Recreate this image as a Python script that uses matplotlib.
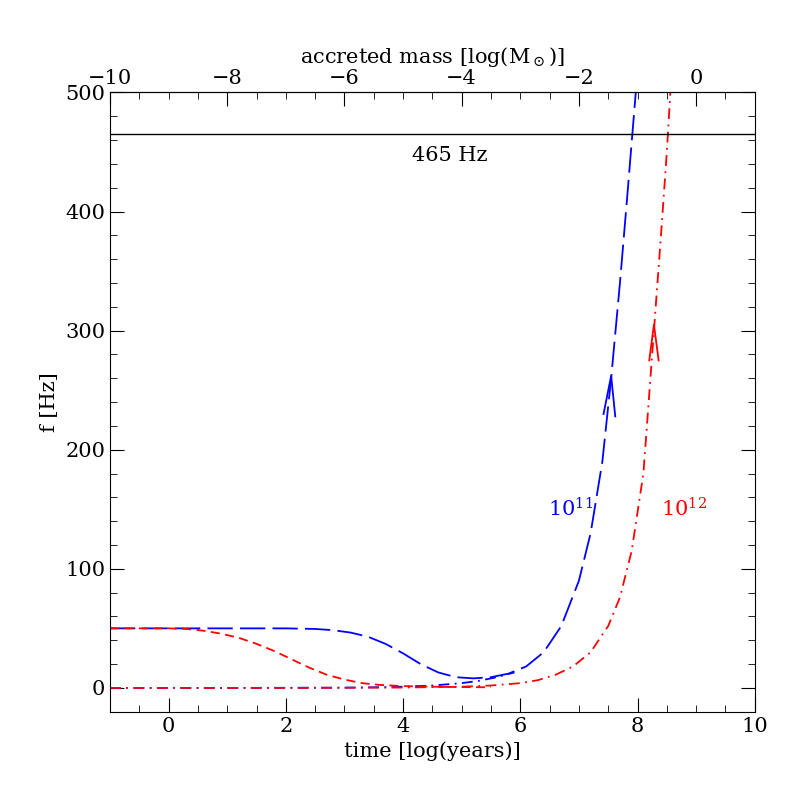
import numpy as np
import matplotlib
matplotlib.use("Agg")
import matplotlib.pyplot as plt
from matplotlib.ticker import MultipleLocator, FuncFormatter

plt.rcParams['font.family'] = 'DejaVu Serif'
plt.rcParams['mathtext.fontset'] = 'dejavuserif'

blue_up_x = [-1, 0, 1, 2, 2.5, 2.8, 3.1, 3.4, 3.7, 4.0, 4.3, 4.6, 4.9, 5.2, 5.5, 5.8, 6.1, 6.4, 6.7, 7.0, 7.2, 7.4, 7.55, 7.7, 7.82, 7.92, 7.97]
blue_up_y = [50, 50, 50, 50, 49.5, 48.5, 46.5, 43, 37, 29, 20, 13, 9, 8, 9, 12, 18, 30, 52, 90, 130, 190, 260, 340, 410, 470, 500]
blue_lo_x = [-1, 1, 3, 3.5, 4, 4.5, 5, 5.3, 5.6, 5.9]
blue_lo_y = [0, 0, 0.2, 0.5, 1, 2, 4, 6, 9, 13]
red_up_x = [-1, 0, 0.3, 0.6, 0.9, 1.2, 1.5, 1.8, 2.1, 2.4, 2.7, 3.0, 3.3, 3.6, 4.0, 4.5, 5, 5.5]
red_up_y = [50, 50, 49.5, 48, 45.5, 42, 37, 31, 24, 17, 11, 7, 4, 2.5, 1.5, 1, 0.7, 0.5]
red_lo_x = [-1, 2, 4, 5, 5.5, 6, 6.3, 6.6, 6.9, 7.2, 7.5, 7.7, 7.9, 8.1, 8.28, 8.4, 8.5, 8.56]
red_lo_y = [0, 0, 0.3, 1, 2, 4, 6.5, 11, 18, 30, 52, 76, 115, 180, 300, 380, 450, 500]
f_line = 465

fig = plt.figure(figsize=(7.97, 7.97), dpi=100)
ax = fig.add_axes([0.138, 0.107, 0.809, 0.777])
ax.plot(blue_up_x, blue_up_y, color='blue', lw=1.3, dashes=(14, 4))
ax.plot(blue_lo_x, blue_lo_y, color='blue', lw=1.3, dashes=(6, 3, 1, 3))
ax.plot(red_up_x, red_up_y, color='red', lw=1.3, dashes=(5, 3))
ax.plot(red_lo_x, red_lo_y, color='red', lw=1.3, dashes=(6, 3, 1, 3))
ax.axhline(f_line, color='black', lw=1)
ax.text(4.8, 447, '465 Hz', ha='center', va='center', fontsize=15)
ax.plot([7.42, 7.55, 7.62], [230, 262, 228], color='blue', lw=1.3)
ax.plot([8.2, 8.28, 8.36], [275, 305, 275], color='red', lw=1.3)
ax.text(6.85, 150, r'$10^{11}$', color='blue', fontsize=15, ha='center', va='center')
ax.text(8.8, 150, r'$10^{12}$', color='red', fontsize=15, ha='center', va='center')
ax.set_xlim(-1, 10)
ax.set_ylim(-20, 500)
ax.xaxis.set_major_locator(MultipleLocator(2))
ax.xaxis.set_minor_locator(MultipleLocator(0.5))
ax.yaxis.set_major_locator(MultipleLocator(100))
ax.yaxis.set_minor_locator(MultipleLocator(20))
ax.tick_params(which='both', direction='in', right=True, labelsize=15)
ax.tick_params(which='major', length=10)
ax.tick_params(which='minor', length=5)
ax.set_xlabel('time [log(years)]', fontsize=15)
ax.set_ylabel('f [Hz]', fontsize=15)
top = ax.secondary_xaxis('top', functions=(lambda x: x - 9, lambda m: m + 9))
top.xaxis.set_major_locator(MultipleLocator(2))
top.xaxis.set_minor_locator(MultipleLocator(0.5))
top.tick_params(which='both', direction='in', labelsize=15)
top.tick_params(which='major', length=10)
top.tick_params(which='minor', length=5)
top.set_xlabel(r'accreted mass [log(M$_\odot$)]', fontsize=15)
fig.savefig('out.png', dpi=100)
